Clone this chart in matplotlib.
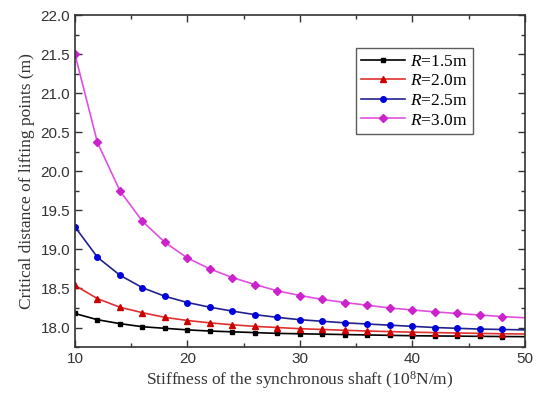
import matplotlib
matplotlib.use("Agg")
import matplotlib.pyplot as plt
from matplotlib.ticker import MultipleLocator

stiffness = [10, 12, 14, 16, 18, 20, 22, 24, 26, 28, 30, 32, 34, 36, 38, 40, 42, 44, 46, 48, 50]
r15 = [18.18, 18.10, 18.05, 18.01, 17.99, 17.97, 17.955, 17.945, 17.935, 17.925, 17.92, 17.915, 17.91, 17.905, 17.90, 17.895, 17.892, 17.89, 17.887, 17.885, 17.883]
r20 = [18.54, 18.37, 18.26, 18.19, 18.13, 18.09, 18.06, 18.035, 18.015, 18.00, 17.985, 17.975, 17.965, 17.955, 17.948, 17.94, 17.935, 17.93, 17.925, 17.92, 17.917]
r25 = [19.29, 18.90, 18.67, 18.51, 18.40, 18.32, 18.26, 18.21, 18.165, 18.13, 18.10, 18.08, 18.06, 18.045, 18.03, 18.015, 18.00, 17.99, 17.98, 17.975, 17.97]
r30 = [21.50, 20.37, 19.75, 19.36, 19.09, 18.89, 18.75, 18.64, 18.55, 18.47, 18.41, 18.36, 18.32, 18.285, 18.25, 18.225, 18.20, 18.18, 18.16, 18.14, 18.125]
labels = ["1.5", "2.0", "2.5", "3.0"]

plt.rcParams['font.family'] = ['Liberation Sans', 'DejaVu Sans']
plt.rcParams['mathtext.fontset'] = 'custom'
plt.rcParams['mathtext.rm'] = 'Liberation Serif'
plt.rcParams['mathtext.it'] = 'Liberation Serif:italic'
plt.rcParams['mathtext.bf'] = 'Liberation Serif:bold'

fig = plt.figure(figsize=(5.39, 3.98), dpi=100)
ax = fig.add_axes([0.139, 0.128, 0.835, 0.834])

styles = [
    (r15, '#000000', '#000000', 's', 3.5),
    (r20, '#e03030', '#cc0000', '^', 4.0),
    (r25, '#22228f', '#0000dd', 'o', 4.0),
    (r30, '#e050e0', '#cc22cc', 'D', 3.8),
]
for (vals, lc, mc, mk, ms), lab in zip(styles, labels):
    ax.plot(stiffness, vals, color=lc, lw=1.2, marker=mk, ms=ms,
            markerfacecolor=mc, markeredgecolor=mc, markevery=slice(0, 20),
            label=r"$\it{R}$=" + lab + "m")

ax.set_xlim(10, 50)
ax.set_ylim(17.75, 22.0)
ax.xaxis.set_major_locator(MultipleLocator(10))
ax.xaxis.set_minor_locator(MultipleLocator(5))
ax.yaxis.set_major_locator(MultipleLocator(0.5))
ax.yaxis.set_minor_locator(MultipleLocator(0.25))
ax.yaxis.set_major_formatter(matplotlib.ticker.FormatStrFormatter('%.1f'))
ax.tick_params(which='both', direction='in', top=True, right=True, labelsize=11, colors='#333333', labelcolor='#333333')
ax.tick_params(which='major', length=5, width=1)
ax.tick_params(which='minor', length=3, width=1)
for s in ax.spines.values():
    s.set_linewidth(1.2)
    s.set_color('#333333')

ax.set_xlabel(r"Stiffness of the synchronous shaft (10$^{8}$N/m)", family='Liberation Serif', fontsize=12.5, color='#333333', labelpad=2)
ax.set_ylabel("Critical distance of lifting points (m)", family='Liberation Serif', fontsize=12.5, color='#333333', labelpad=4)

leg = ax.legend(loc='upper left', bbox_to_anchor=(0.625, 0.9), frameon=True, fancybox=False,
                prop={'family': 'Liberation Serif', 'size': 12.5}, handlelength=2.5,
                borderpad=0.3, labelspacing=0.2, handletextpad=0.3, borderaxespad=0)
leg.get_frame().set_edgecolor('#333333')
leg.get_frame().set_linewidth(1.0)

fig.savefig("out.png", dpi=100)
